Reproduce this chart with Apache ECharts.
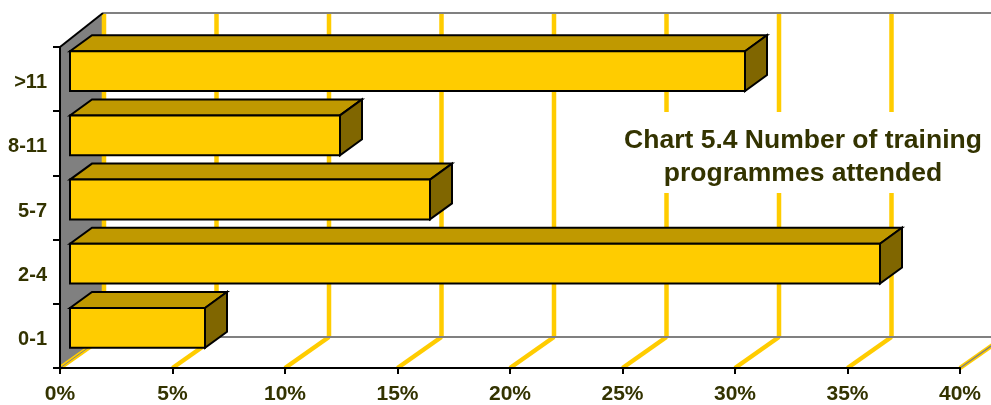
<!DOCTYPE html>
<html>
<head>
<meta charset="utf-8">
<script src="https://cdn.jsdelivr.net/npm/echarts@6/dist/echarts.min.js"></script>
<style>
  html, body { margin: 0; padding: 0; background: #ffffff; }
  #chart { width: 991px; height: 405px; }
</style>
</head>
<body>
<div id="chart"></div>
<script>
// Share of respondents by number of training programmes attended (%)
const categories = ['0-1', '2-4', '5-7', '8-11', '>11'];
const shares = [6, 36, 16, 12, 30];
const percentTicks = [0, 5, 10, 15, 20, 25, 30, 35, 40];
const titleText = 'Chart 5.4 Number of training\nprogrammes attended';

const FONT = '"Liberation Sans", Arial, Helvetica, sans-serif';
const INK = '#333300';
const GOLD = '#FFCC00';
const GOLD_TOP = '#C09900';
const GOLD_SIDE = '#806600';
const WALL = '#808080';

// Offset of the back wall from the front plane (pseudo-3D depth)
const WALL_DX = 44;
const WALL_DY_TOP = -34;
const WALL_DY_BOTTOM = -31;

// Bar block geometry: front face shift and depth of the block
const BAR_FX = 10, BAR_FY = -8;
const BAR_DX = 22, BAR_DY = -16;
const BAR_FILL = 0.62;

function renderWalls(params, api) {
  const cs = params.coordSys;
  const left = cs.x;
  const top = cs.y;
  const bottom = cs.y + cs.height;
  const backTop = top + WALL_DY_TOP;
  const backBottom = bottom + WALL_DY_BOTTOM;
  const backLeft = left + WALL_DX - 1;
  const W = api.getWidth();
  const children = [];

  // grey side wall
  children.push({
    type: 'polygon',
    shape: { points: [[left, top], [backLeft, backTop], [backLeft, backBottom], [left, bottom]] },
    style: { fill: WALL, stroke: null }
  });

  // gridlines on the back wall and on the floor
  percentTicks.forEach(function (t) {
    const x = api.coord([t, 0])[0];
    children.push({
      type: 'line',
      shape: { x1: x + WALL_DX, y1: backTop, x2: x + WALL_DX, y2: backBottom },
      style: { stroke: GOLD, lineWidth: 4.5 }
    });
    children.push({
      type: 'line',
      shape: { x1: x, y1: bottom, x2: x + WALL_DX, y2: backBottom },
      style: { stroke: GOLD, lineWidth: 4.5 }
    });
  });

  // right and left edges of the floor
  const xEnd = api.coord([percentTicks[percentTicks.length - 1], 0])[0];
  children.push({
    type: 'line',
    shape: { x1: xEnd, y1: bottom, x2: xEnd + WALL_DX, y2: backBottom },
    style: { stroke: WALL, lineWidth: 1.5 }
  });
  children.push({
    type: 'line',
    shape: { x1: left, y1: bottom, x2: backLeft, y2: backBottom },
    style: { stroke: WALL, lineWidth: 1 }
  });

  // back wall borders
  children.push({
    type: 'line',
    shape: { x1: backLeft, y1: backTop, x2: W, y2: backTop },
    style: { stroke: WALL, lineWidth: 2 }
  });
  children.push({
    type: 'line',
    shape: { x1: backLeft, y1: backBottom, x2: W, y2: backBottom },
    style: { stroke: WALL, lineWidth: 2 }
  });

  // top edge of the side wall
  children.push({
    type: 'line',
    shape: { x1: left, y1: top, x2: backLeft, y2: backTop },
    style: { stroke: '#000000', lineWidth: 2 }
  });

  return { type: 'group', children: children };
}

function renderBar(params, api) {
  const v = api.value(0);
  const idx = api.value(1);
  const base = api.coord([0, idx]);
  const end = api.coord([v, idx]);
  const band = api.size([0, 1])[1];
  const h = band * BAR_FILL;

  const x0 = base[0] + BAR_FX;
  const x1 = end[0] + BAR_FX;
  const yT = base[1] + BAR_FY - h / 2;
  const yB = base[1] + BAR_FY + h / 2;

  const edge = { stroke: '#000000', lineWidth: 2, lineJoin: 'miter' };

  return {
    type: 'group',
    children: [
      {
        type: 'polygon',
        shape: { points: [[x0, yT], [x1, yT], [x1 + BAR_DX, yT + BAR_DY], [x0 + BAR_DX, yT + BAR_DY]] },
        style: Object.assign({ fill: GOLD_TOP }, edge)
      },
      {
        type: 'polygon',
        shape: { points: [[x1, yT], [x1 + BAR_DX, yT + BAR_DY], [x1 + BAR_DX, yB + BAR_DY], [x1, yB]] },
        style: Object.assign({ fill: GOLD_SIDE }, edge)
      },
      {
        type: 'rect',
        shape: { x: x0, y: yT, width: x1 - x0, height: yB - yT },
        style: Object.assign({ fill: GOLD }, edge)
      }
    ]
  };
}

const chart = echarts.init(document.getElementById('chart'), null, { renderer: 'canvas' });

chart.setOption({
  animation: false,
  backgroundColor: '#ffffff',
  grid: { left: 60, right: 31, top: 47, bottom: 37 },
  xAxis: {
    type: 'value',
    min: 0,
    max: 40,
    interval: 5,
    splitLine: { show: false },
    axisLine: { show: true, lineStyle: { color: '#000000', width: 2 } },
    axisTick: { show: true, length: 6, lineStyle: { color: '#000000', width: 2 } },
    axisLabel: {
      formatter: '{value}%',
      margin: 16,
      color: INK,
      fontFamily: FONT,
      fontWeight: 'bold',
      fontSize: 21
    }
  },
  yAxis: {
    type: 'category',
    data: categories,
    boundaryGap: true,
    splitLine: { show: false },
    axisLine: { show: true, lineStyle: { color: '#000000', width: 2 } },
    axisTick: { show: true, length: 7, lineStyle: { color: '#000000', width: 2 } },
    axisLabel: {
      margin: 13,
      formatter: '{c|{value}}',
      rich: {
        c: {
          color: INK,
          fontFamily: FONT,
          fontWeight: 'bold',
          fontSize: 20,
          padding: [7, 0, 0, 0]
        }
      }
    }
  },
  graphic: [
    {
      type: 'rect',
      z: 10,
      shape: { x: 600, y: 112, width: 391, height: 81 },
      style: { fill: '#ffffff' }
    },
    {
      type: 'text',
      z: 11,
      x: 803,
      y: 157,
      style: {
        text: titleText,
        fill: INK,
        font: 'bold 26.5px ' + FONT,
        align: 'center',
        verticalAlign: 'middle',
        lineHeight: 33
      }
    }
  ],
  series: [
    {
      type: 'custom',
      z: -1,
      silent: true,
      clip: false,
      renderItem: renderWalls,
      encode: { x: 0, y: 1 },
      data: [[0, 0]]
    },
    {
      type: 'custom',
      z: 2,
      clip: false,
      renderItem: renderBar,
      encode: { x: 0, y: 1 },
      data: shares.map(function (v, i) { return [v, i]; })
    }
  ]
});
</script>
</body>
</html>
